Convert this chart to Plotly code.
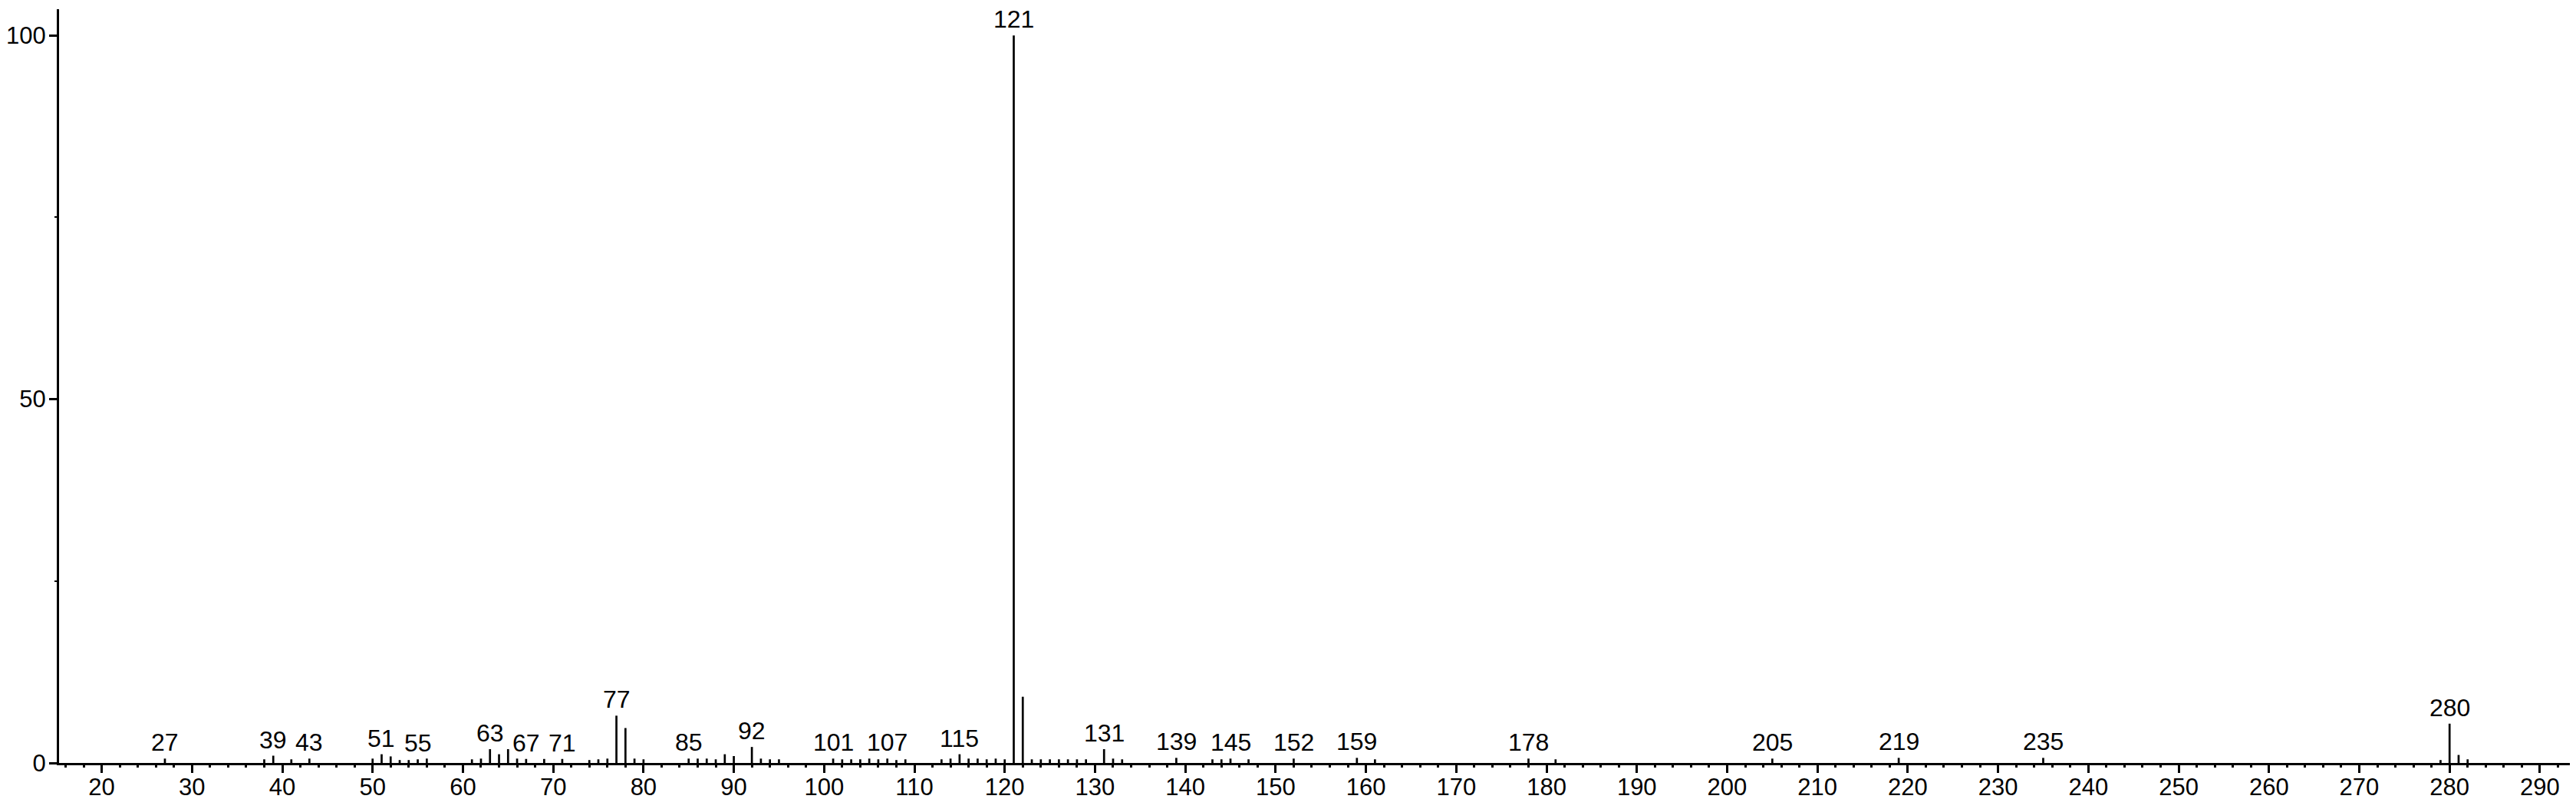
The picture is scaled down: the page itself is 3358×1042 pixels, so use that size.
import plotly.graph_objects as go

# m/z values and relative intensities (%)
mz = [27, 38, 39, 41, 43, 50, 51, 52, 53, 54, 55, 56, 61, 62, 63, 64, 65, 66, 67, 69,
      71, 74, 75, 76, 77, 78, 79, 80, 85, 86, 87, 88, 89, 90, 92, 93, 94, 95,
      101, 102, 103, 104, 105, 106, 107, 108, 109, 113, 114, 115, 116, 117, 118, 119, 120,
      121, 122, 123, 124, 125, 126, 127, 128, 129, 131, 132, 133,
      139, 143, 144, 145, 147, 152, 159, 161, 178, 181, 205, 219, 235,
      279, 280, 281, 282]
intensity = [0.6, 0.5, 1.0, 0.5, 0.6, 0.6, 1.2, 0.9, 0.4, 0.4, 0.5, 0.6, 0.5, 0.6, 1.9, 1.2, 1.9, 0.6, 0.55, 0.55,
             0.55, 0.4, 0.5, 0.6, 6.5, 4.8, 0.6, 0.5, 0.6, 0.6, 0.6, 0.5, 1.2, 0.95, 2.2, 0.6, 0.5, 0.5,
             0.6, 0.5, 0.5, 0.5, 0.6, 0.5, 0.6, 0.4, 0.5, 0.5, 0.6, 1.2, 0.6, 0.6, 0.5, 0.6, 0.5,
             100.0, 9.1, 0.5, 0.5, 0.5, 0.5, 0.5, 0.5, 0.5, 1.9, 0.6, 0.5,
             0.7, 0.5, 0.5, 0.6, 0.5, 0.6, 0.7, 0.5, 0.6, 0.5, 0.6, 0.7, 0.7,
             0.4, 5.4, 1.1, 0.5]

# labelled peaks
label_mz = [27, 39, 43, 51, 55, 63, 67, 71, 77, 85, 92, 101, 107, 115, 121, 131,
            139, 145, 152, 159, 178, 205, 219, 235, 280]

x_ticks = list(range(20, 300, 10))
y_ticks = [0, 50, 100]
y_minor = [25, 75]

X_RANGE = [15.28, 294.0]
Y_RANGE = [0, 103.6]
FONT = "Liberation Sans, Arial, sans-serif"

# stick segments
xs, ys = [], []
for m, h in zip(mz, intensity):
    xs += [m, m, None]
    ys += [0, h, None]

fig = go.Figure()
fig.add_trace(go.Scatter(x=xs, y=ys, mode="lines",
                         line=dict(color="black", width=2.7),
                         hoverinfo="skip", showlegend=False))
# invisible copy that registers the tick-mark overlay axes
fig.add_trace(go.Scatter(x=xs, y=ys, mode="lines", xaxis="x2", yaxis="y2",
                         line=dict(color="rgba(0,0,0,0)", width=0), opacity=0,
                         hoverinfo="skip", showlegend=False))

lookup = dict(zip(mz, intensity))
for m in label_mz:
    fig.add_annotation(x=m, y=lookup[m], text=str(m), showarrow=False,
                       xanchor="center", yanchor="bottom", yshift=1,
                       font=dict(family=FONT, size=32, color="black"))

fig.update_layout(
    width=3358, height=1042,
    margin=dict(l=69, r=8, t=4, b=55),
    paper_bgcolor="white", plot_bgcolor="white",
    showlegend=False,
    font=dict(family=FONT, size=31, color="black"),
    # primary axes: line + labels
    xaxis=dict(range=X_RANGE, automargin=False,
               tickmode="array", tickvals=x_ticks, ticktext=[str(v) for v in x_ticks],
               ticks="", showline=True, linecolor="black", linewidth=3,
               showgrid=False, zeroline=False,
               tickfont=dict(family=FONT, size=31, color="black"),
               ticklabelstandoff=2),
    yaxis=dict(range=Y_RANGE, automargin=False,
               tickmode="array", tickvals=y_ticks, ticktext=[str(v) for v in y_ticks],
               ticks="", showline=True, linecolor="black", linewidth=3,
               showgrid=False, zeroline=False,
               tickfont=dict(family=FONT, size=31, color="black"),
               ticklabelstandoff=8),
    # overlay axes: tick marks only
    xaxis2=dict(range=X_RANGE, overlaying="x", anchor="y2", side="bottom", automargin=False,
                tickmode="array", tickvals=x_ticks, showticklabels=False,
                ticks="outside", ticklen=12, tickwidth=2.5, tickcolor="black",
                minor=dict(dtick=2, tick0=0, ticks="outside", ticklen=5, tickwidth=2.5, tickcolor="black"),
                showline=False, showgrid=False, zeroline=False),
    yaxis2=dict(range=Y_RANGE, overlaying="y", anchor="x2", side="left", automargin=False,
                tickmode="array", tickvals=y_ticks, showticklabels=False,
                ticks="outside", ticklen=12, tickwidth=2.5, tickcolor="black",
                minor=dict(tickvals=y_minor, ticks="outside", ticklen=5, tickwidth=2, tickcolor="black"),
                showline=False, showgrid=False, zeroline=False),
)

fig.write_html("out.html")
